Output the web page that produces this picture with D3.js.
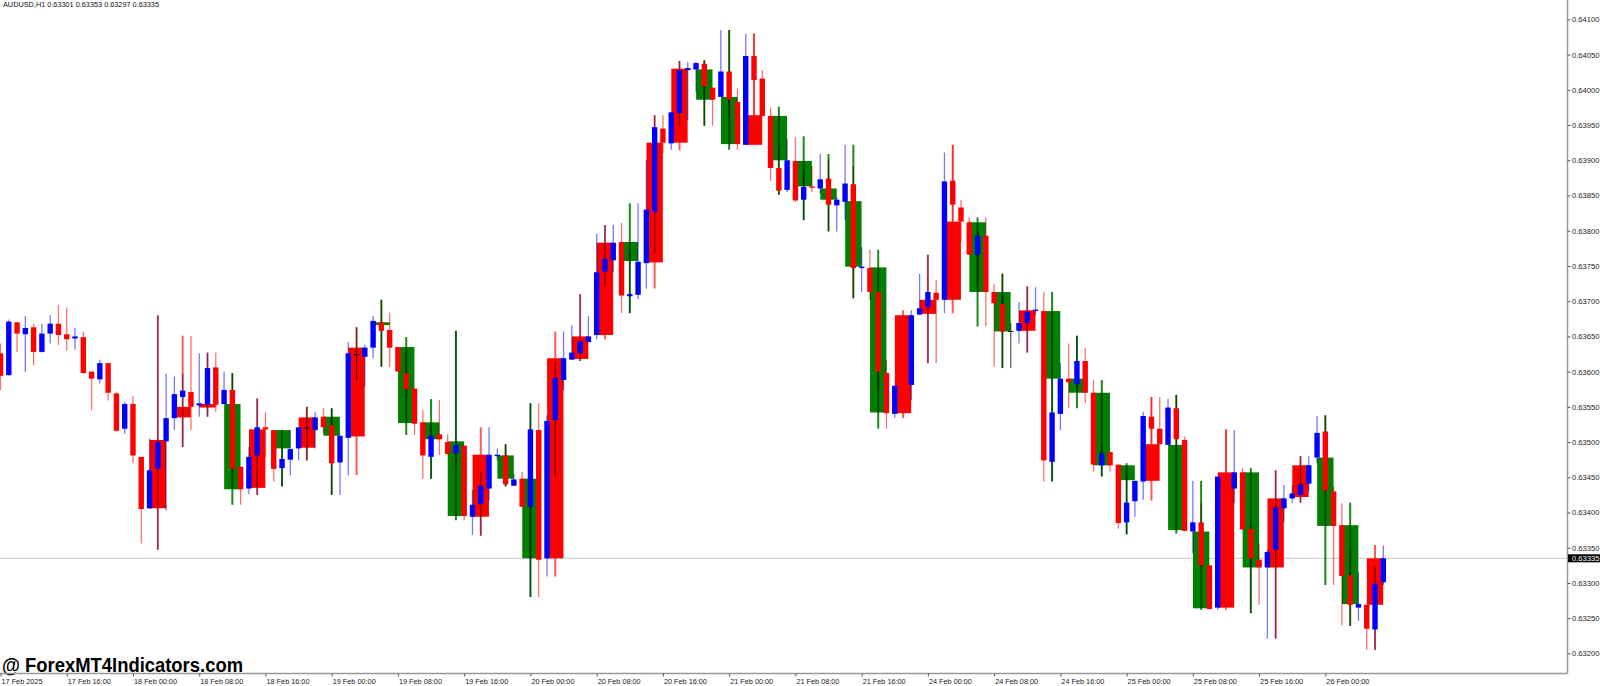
<!DOCTYPE html>
<html>
<head>
<meta charset="utf-8">
<script src="https://cdn.jsdelivr.net/npm/d3@7"></script>
<style>
html, body { margin: 0; padding: 0; background: #fff; }
svg { display: block; font-family: "Liberation Sans", Arial, sans-serif; }
.wick { mix-blend-mode: multiply; }
</style>
</head>
<body>
<svg id="chart" width="1600" height="686"></svg>
<script>
// AUDUSD H1, 17 Feb 2025 08:00 .. 26 Feb 2025 07:00
var symbol = "AUDUSD,H1";

var xLabels = ["17 Feb 2025", "17 Feb 16:00", "18 Feb 00:00", "18 Feb 08:00", "18 Feb 16:00",
    "19 Feb 00:00", "19 Feb 08:00", "19 Feb 16:00", "20 Feb 00:00", "20 Feb 08:00", "20 Feb 16:00",
    "21 Feb 00:00", "21 Feb 08:00", "21 Feb 16:00", "24 Feb 00:00", "24 Feb 08:00", "24 Feb 16:00",
    "25 Feb 00:00", "25 Feb 08:00", "25 Feb 16:00", "26 Feb 00:00"];

var priceTicks = [0.632, 0.6325, 0.633, 0.6335, 0.634, 0.6345, 0.635, 0.6355, 0.636,
    0.6365, 0.637, 0.6375, 0.638, 0.6385, 0.639, 0.6395, 0.640, 0.6405, 0.641];

// hourly candles
var barOpen = [
    0.63626, 0.63595, 0.63670, 0.63653, 0.63663, 0.63628, 0.63654, 0.63668, 0.63653, 0.63647,
    0.63649, 0.63600, 0.63589, 0.63612, 0.63569, 0.63519, 0.63554, 0.63479, 0.63406, 0.63462,
    0.63501, 0.63534, 0.63564, 0.63571, 0.63552, 0.63553, 0.63606, 0.63554, 0.63574, 0.63465,
    0.63434, 0.63481, 0.63521, 0.63517, 0.63463, 0.63475, 0.63491, 0.63520, 0.63517, 0.63536,
    0.63524, 0.63471, 0.63506, 0.63624, 0.63621, 0.63634, 0.63670, 0.63659, 0.63635, 0.63598,
    0.63576, 0.63528, 0.63479, 0.63511, 0.63500, 0.63484, 0.63495, 0.63394, 0.63412, 0.63434,
    0.63480, 0.63481, 0.63438, 0.63448, 0.63408, 0.63517, 0.63335, 0.63531, 0.63588, 0.63617,
    0.63626, 0.63642, 0.63652, 0.63742, 0.63758, 0.63784, 0.63707, 0.63709, 0.63754, 0.63827,
    0.63945, 0.63924, 0.63967, 0.64028, 0.64029, 0.64037, 0.64003, 0.63990, 0.64026, 0.63983,
    0.63922, 0.64048, 0.64016, 0.63963, 0.63889, 0.63858, 0.63899, 0.63844, 0.63863, 0.63860,
    0.63874, 0.63836, 0.63841, 0.63866, 0.63747, 0.63747, 0.63713, 0.63598, 0.63540, 0.63582,
    0.63581, 0.63681, 0.63692, 0.63712, 0.63702, 0.63871, 0.63833, 0.63812, 0.63766, 0.63793,
    0.63713, 0.63696, 0.63657, 0.63658, 0.63669, 0.63686, 0.63686, 0.63472, 0.63540, 0.63590,
    0.63582, 0.63615, 0.63570, 0.63467, 0.63486, 0.63468, 0.63386, 0.63416, 0.63444, 0.63536,
    0.63519, 0.63496, 0.63548, 0.63503, 0.63373, 0.63386, 0.63325, 0.63265, 0.63451, 0.63434,
    0.63457, 0.63377, 0.63333, 0.63322, 0.63347, 0.63406, 0.63420, 0.63425, 0.63441, 0.63478,
    0.63515, 0.63430, 0.63382, 0.63311, 0.63265, 0.63269, 0.63234, 0.63301];
var barHigh = [
    0.63640, 0.63674, 0.63670, 0.63679, 0.63668, 0.63668, 0.63680, 0.63695, 0.63691, 0.63662,
    0.63657, 0.63600, 0.63617, 0.63612, 0.63571, 0.63557, 0.63565, 0.63479, 0.63505, 0.63680,
    0.63597, 0.63593, 0.63597, 0.63651, 0.63626, 0.63627, 0.63627, 0.63600, 0.63598, 0.63465,
    0.63493, 0.63562, 0.63543, 0.63517, 0.63491, 0.63517, 0.63521, 0.63550, 0.63543, 0.63548,
    0.63548, 0.63509, 0.63642, 0.63663, 0.63638, 0.63679, 0.63702, 0.63684, 0.63635, 0.63631,
    0.63576, 0.63545, 0.63523, 0.63560, 0.63511, 0.63658, 0.63495, 0.63432, 0.63458, 0.63521,
    0.63491, 0.63497, 0.63455, 0.63458, 0.63555, 0.63555, 0.63538, 0.63614, 0.63657, 0.63666,
    0.63710, 0.63679, 0.63796, 0.63808, 0.63808, 0.63811, 0.63769, 0.63839, 0.63900, 0.63964,
    0.63964, 0.63969, 0.64041, 0.64040, 0.64039, 0.64042, 0.64003, 0.64085, 0.64085, 0.64002,
    0.64080, 0.64080, 0.64028, 0.63975, 0.63919, 0.63931, 0.63933, 0.63881, 0.63892, 0.63909,
    0.63900, 0.63848, 0.63922, 0.63891, 0.63777, 0.63773, 0.63713, 0.63616, 0.63580, 0.63598,
    0.63687, 0.63739, 0.63766, 0.63730, 0.63911, 0.63922, 0.63844, 0.63819, 0.63799, 0.63819,
    0.63724, 0.63739, 0.63669, 0.63699, 0.63721, 0.63720, 0.63713, 0.63590, 0.63612, 0.63640,
    0.63651, 0.63634, 0.63588, 0.63496, 0.63486, 0.63468, 0.63453, 0.63445, 0.63543, 0.63564,
    0.63564, 0.63561, 0.63567, 0.63508, 0.63445, 0.63413, 0.63325, 0.63451, 0.63518, 0.63517,
    0.63463, 0.63387, 0.63356, 0.63347, 0.63460, 0.63439, 0.63439, 0.63480, 0.63480, 0.63537,
    0.63538, 0.63437, 0.63413, 0.63347, 0.63315, 0.63269, 0.63323, 0.63353];
var barLow = [
    0.63574, 0.63594, 0.63628, 0.63599, 0.63609, 0.63627, 0.63640, 0.63638, 0.63630, 0.63631,
    0.63597, 0.63545, 0.63583, 0.63559, 0.63515, 0.63512, 0.63470, 0.63356, 0.63405, 0.63347,
    0.63403, 0.63517, 0.63493, 0.63517, 0.63536, 0.63536, 0.63543, 0.63554, 0.63456, 0.63411,
    0.63426, 0.63425, 0.63479, 0.63444, 0.63437, 0.63453, 0.63474, 0.63474, 0.63491, 0.63512,
    0.63425, 0.63425, 0.63453, 0.63588, 0.63579, 0.63619, 0.63607, 0.63607, 0.63600, 0.63564,
    0.63510, 0.63448, 0.63448, 0.63482, 0.63482, 0.63465, 0.63389, 0.63368, 0.63367, 0.63417,
    0.63474, 0.63437, 0.63438, 0.63408, 0.63280, 0.63280, 0.63309, 0.63451, 0.63574, 0.63617,
    0.63615, 0.63642, 0.63646, 0.63723, 0.63741, 0.63683, 0.63683, 0.63703, 0.63718, 0.63768,
    0.63910, 0.63915, 0.63948, 0.63957, 0.63997, 0.63949, 0.63949, 0.63990, 0.63960, 0.63915,
    0.63922, 0.63962, 0.63963, 0.63871, 0.63851, 0.63855, 0.63840, 0.63815, 0.63855, 0.63853,
    0.63799, 0.63799, 0.63815, 0.63704, 0.63713, 0.63702, 0.63576, 0.63519, 0.63534, 0.63560,
    0.63560, 0.63680, 0.63612, 0.63612, 0.63683, 0.63813, 0.63784, 0.63766, 0.63725, 0.63664,
    0.63607, 0.63605, 0.63605, 0.63640, 0.63627, 0.63680, 0.63444, 0.63444, 0.63517, 0.63548,
    0.63575, 0.63555, 0.63458, 0.63451, 0.63458, 0.63377, 0.63369, 0.63394, 0.63418, 0.63498,
    0.63497, 0.63496, 0.63486, 0.63373, 0.63342, 0.63323, 0.63262, 0.63262, 0.63420, 0.63413,
    0.63376, 0.63257, 0.63269, 0.63221, 0.63221, 0.63386, 0.63414, 0.63414, 0.63430, 0.63470,
    0.63430, 0.63297, 0.63240, 0.63239, 0.63246, 0.63205, 0.63205, 0.63297];
var barClose = [
    0.63594, 0.63671, 0.63654, 0.63662, 0.63628, 0.63654, 0.63668, 0.63652, 0.63646, 0.63650,
    0.63598, 0.63590, 0.63612, 0.63570, 0.63516, 0.63554, 0.63481, 0.63405, 0.63460, 0.63500,
    0.63534, 0.63568, 0.63573, 0.63550, 0.63555, 0.63605, 0.63553, 0.63574, 0.63462, 0.63433,
    0.63479, 0.63521, 0.63518, 0.63462, 0.63476, 0.63490, 0.63521, 0.63520, 0.63535, 0.63521,
    0.63470, 0.63509, 0.63626, 0.63624, 0.63634, 0.63672, 0.63658, 0.63634, 0.63600, 0.63575,
    0.63526, 0.63481, 0.63509, 0.63504, 0.63483, 0.63496, 0.63395, 0.63411, 0.63438, 0.63482,
    0.63482, 0.63440, 0.63447, 0.63408, 0.63518, 0.63333, 0.63530, 0.63591, 0.63619, 0.63627,
    0.63643, 0.63650, 0.63741, 0.63760, 0.63783, 0.63708, 0.63710, 0.63756, 0.63830, 0.63947,
    0.63925, 0.63968, 0.64028, 0.64031, 0.64038, 0.64005, 0.63986, 0.64026, 0.63986, 0.63923,
    0.64048, 0.64014, 0.63963, 0.63889, 0.63857, 0.63900, 0.63843, 0.63862, 0.63861, 0.63873,
    0.63837, 0.63844, 0.63867, 0.63747, 0.63749, 0.63713, 0.63600, 0.63541, 0.63580, 0.63578,
    0.63680, 0.63690, 0.63713, 0.63702, 0.63870, 0.63837, 0.63813, 0.63766, 0.63793, 0.63713,
    0.63697, 0.63657, 0.63657, 0.63669, 0.63685, 0.63688, 0.63474, 0.63542, 0.63590, 0.63585,
    0.63615, 0.63570, 0.63468, 0.63484, 0.63467, 0.63385, 0.63414, 0.63445, 0.63537, 0.63519,
    0.63497, 0.63549, 0.63504, 0.63374, 0.63386, 0.63325, 0.63263, 0.63451, 0.63434, 0.63457,
    0.63376, 0.63335, 0.63322, 0.63344, 0.63407, 0.63420, 0.63427, 0.63440, 0.63467, 0.63513,
    0.63431, 0.63381, 0.63310, 0.63269, 0.63270, 0.63235, 0.63299, 0.63335];

// overlay indicator boxes (every third bar)
var boxBar = [19, 22, 25, 28, 31, 34, 37, 40, 43, 46, 49, 52, 55, 58, 61, 64, 67, 70, 73, 76,
    79, 82, 85, 88, 91, 94, 97, 100, 103, 106, 109, 112, 115, 118, 121, 124, 127, 130, 133, 136,
    139, 142, 145, 148, 151, 154, 157, 160, 163, 166];
var boxOpen = [
    0.63503, 0.63550, 0.63554, 0.63433, 0.63518, 0.63491, 0.63535, 0.63509, 0.63634, 0.63666,
    0.63527, 0.63504, 0.63395, 0.63482, 0.63448, 0.63335, 0.63619, 0.63650, 0.63783, 0.63757,
    0.63925, 0.64030, 0.63986, 0.63923, 0.63964, 0.63900, 0.63863, 0.63844, 0.63749, 0.63542,
    0.63680, 0.63702, 0.63813, 0.63713, 0.63657, 0.63687, 0.63590, 0.63570, 0.63467, 0.63446,
    0.63497, 0.63375, 0.63264, 0.63457, 0.63322, 0.63420, 0.63467, 0.63381, 0.63270, 0.63335];
var boxClose = [
    0.63406, 0.63535, 0.63549, 0.63554, 0.63435, 0.63517, 0.63492, 0.63536, 0.63508, 0.63670,
    0.63635, 0.63528, 0.63501, 0.63394, 0.63481, 0.63448, 0.63335, 0.63618, 0.63652, 0.63784,
    0.63755, 0.63925, 0.64029, 0.63990, 0.63922, 0.63963, 0.63899, 0.63860, 0.63842, 0.63748,
    0.63541, 0.63682, 0.63702, 0.63812, 0.63713, 0.63658, 0.63686, 0.63590, 0.63570, 0.63467,
    0.63445, 0.63496, 0.63373, 0.63265, 0.63457, 0.63322, 0.63422, 0.63478, 0.63382, 0.63269];
var boxHigh = [
    0.63680, 0.63651, 0.63627, 0.63598, 0.63562, 0.63517, 0.63550, 0.63548, 0.63663, 0.63702,
    0.63649, 0.63561, 0.63658, 0.63521, 0.63497, 0.63555, 0.63657, 0.63710, 0.63808, 0.63839,
    0.63964, 0.64041, 0.64042, 0.64085, 0.64080, 0.63976, 0.63934, 0.63909, 0.63922, 0.63773,
    0.63687, 0.63766, 0.63922, 0.63819, 0.63739, 0.63721, 0.63713, 0.63651, 0.63588, 0.63470,
    0.63564, 0.63567, 0.63445, 0.63518, 0.63463, 0.63460, 0.63480, 0.63538, 0.63414, 0.63354];
var boxLow = [
    0.63347, 0.63493, 0.63536, 0.63411, 0.63425, 0.63437, 0.63474, 0.63425, 0.63453, 0.63607,
    0.63510, 0.63448, 0.63389, 0.63367, 0.63437, 0.63280, 0.63309, 0.63615, 0.63646, 0.63683,
    0.63718, 0.63914, 0.63949, 0.63915, 0.63922, 0.63851, 0.63815, 0.63799, 0.63704, 0.63519,
    0.63534, 0.63612, 0.63683, 0.63664, 0.63605, 0.63627, 0.63444, 0.63548, 0.63451, 0.63369,
    0.63417, 0.63370, 0.63262, 0.63262, 0.63257, 0.63221, 0.63414, 0.63297, 0.63239, 0.63205];

function candleChart() {
    var width = 1600,
        height = 686,
        plotRight = 1567.5,
        plotBottom = 673.5,
        fmt = d3.format(".5f");

    var svg = d3.select("#chart");

    var bars = barOpen.map(function(o, i) {
        return {i: i, o: o, h: barHigh[i], l: barLow[i], c: barClose[i]};
    });
    var boxes = boxBar.map(function(b, k) {
        return {i: b, o: boxOpen[k], h: boxHigh[k], l: boxLow[k], c: boxClose[k]};
    });
    var last = bars[bars.length - 1];

    var x = d3.scaleLinear()
        .domain([0, bars.length - 1])
        .range([0.5, 1383.3]);
    var y = d3.scaleLinear()
        .domain([0.632, 0.641])
        .range([653.4, 19.4]);
    var step = x(1) - x(0);

    svg.append("defs").append("clipPath")
        .attr("id", "plot-clip")
        .append("rect")
        .attr("x", 0).attr("y", 0)
        .attr("width", plotRight).attr("height", plotBottom);

    var content = svg.append("g").attr("clip-path", "url(#plot-clip)");

    // last price line
    content.append("line")
        .attr("x1", 0).attr("x2", plotRight)
        .attr("y1", y(last.c)).attr("y2", y(last.c))
        .attr("stroke", "#c8c8c8").attr("stroke-width", 1);

    // indicator bodies
    content.selectAll(".box").data(boxes).enter().append("rect")
        .attr("class", "box")
        .attr("x", function(d) { return x(d.i) - step + 0.1; })
        .attr("width", step * 2 - 0.2)
        .attr("y", function(d) { return y(Math.max(d.o, d.c)); })
        .attr("height", function(d) { return Math.max(1, Math.abs(y(d.o) - y(d.c))); })
        .attr("fill", function(d) { return d.c >= d.o ? "#008000" : "#ff0000"; });

    // candle wicks
    content.selectAll(".bar-wick").data(bars).enter().append("line")
        .attr("class", "bar-wick wick")
        .attr("x1", function(d) { return x(d.i); })
        .attr("x2", function(d) { return x(d.i); })
        .attr("y1", function(d) { return y(d.h); })
        .attr("y2", function(d) { return y(d.l); })
        .attr("stroke-width", 1.3)
        .attr("stroke", function(d) {
            if (d.c === d.o) return "#606060";
            return d.c > d.o ? "#7878ff" : "#ff7070";
        });

    // indicator wicks
    content.selectAll(".box-wick").data(boxes).enter().append("line")
        .attr("class", "box-wick wick")
        .attr("x1", function(d) { return x(d.i); })
        .attr("x2", function(d) { return x(d.i); })
        .attr("y1", function(d) { return y(d.h); })
        .attr("y2", function(d) { return y(d.l); })
        .attr("stroke-width", 2)
        .attr("stroke", function(d) { return d.c >= d.o ? "#1a8a1a" : "#ff5a5a"; });

    // candle bodies
    content.selectAll(".body").data(bars).enter().append("rect")
        .attr("class", "body")
        .attr("x", function(d) { return x(d.i) - 2.7; })
        .attr("width", 5.4)
        .attr("y", function(d) {
            return d.c === d.o ? y(d.o) - 0.5 : y(Math.max(d.o, d.c));
        })
        .attr("height", function(d) { return Math.max(1, Math.abs(y(d.o) - y(d.c))); })
        .attr("fill", function(d) {
            if (d.c === d.o) return "#000";
            return d.c > d.o ? "#0000ff" : "#ff0000";
        });

    // watermark
    svg.append("text")
        .attr("x", 2).attr("y", 672)
        .attr("font-size", 19.5)
        .attr("font-weight", "bold")
        .attr("textLength", 241)
        .attr("lengthAdjust", "spacingAndGlyphs")
        .attr("fill", "#000")
        .text("@ ForexMT4Indicators.com");

    // header
    svg.append("text")
        .attr("x", 3).attr("y", 7.4)
        .attr("font-size", 7.5)
        .attr("textLength", 156)
        .attr("lengthAdjust", "spacingAndGlyphs")
        .attr("fill", "#111")
        .text(symbol + "  " + fmt(last.o) + " " + fmt(last.h) + " " + fmt(last.l) + " " + fmt(last.c));

    // frame
    svg.append("line")
        .attr("x1", 0).attr("x2", plotRight)
        .attr("y1", plotBottom).attr("y2", plotBottom)
        .attr("stroke", "#999").attr("stroke-width", 1.5);
    svg.append("line")
        .attr("x1", plotRight).attr("x2", plotRight)
        .attr("y1", 0).attr("y2", plotBottom)
        .attr("stroke", "#999").attr("stroke-width", 1.5);

    // price axis
    var yAxis = d3.axisRight(y)
        .tickValues(priceTicks)
        .tickFormat(fmt)
        .tickSizeInner(3)
        .tickSizeOuter(0)
        .tickPadding(1.5);
    var gy = svg.append("g")
        .attr("class", "y axis")
        .attr("transform", "translate(" + plotRight + ",0)")
        .call(yAxis);
    gy.select(".domain").remove();
    gy.attr("font-size", 7.6).attr("font-family", "Liberation Sans, Arial, sans-serif");
    gy.selectAll(".tick line").attr("stroke", "#555");
    gy.selectAll(".tick text").attr("fill", "#222");

    // time axis
    var xAxis = d3.axisBottom(x)
        .tickValues(xLabels.map(function(d, k) { return k * 8; }))
        .tickFormat(function(d, k) { return xLabels[k]; })
        .tickSizeInner(3)
        .tickSizeOuter(0)
        .tickPadding(2.5);
    var gx = svg.append("g")
        .attr("class", "x axis")
        .attr("transform", "translate(0," + plotBottom + ")")
        .call(xAxis);
    gx.select(".domain").remove();
    gx.attr("font-size", 7.3).attr("font-family", "Liberation Sans, Arial, sans-serif");
    gx.selectAll(".tick line").attr("stroke", "#555");
    gx.selectAll(".tick text")
        .attr("fill", "#222")
        .attr("text-anchor", "start")
        .attr("x", 0.5);

    // last price tag
    var tag = svg.append("g")
        .attr("transform", "translate(" + (plotRight + 0.5) + "," + y(last.c) + ")");
    tag.append("rect")
        .attr("x", 0).attr("y", -4)
        .attr("width", width - plotRight).attr("height", 8)
        .attr("fill", "#000");
    tag.append("text")
        .attr("x", 4).attr("y", 0)
        .attr("dy", "0.34em")
        .attr("font-size", 7.6)
        .attr("fill", "#fff")
        .text(fmt(last.c));
}

candleChart();
</script>
</body>
</html>
